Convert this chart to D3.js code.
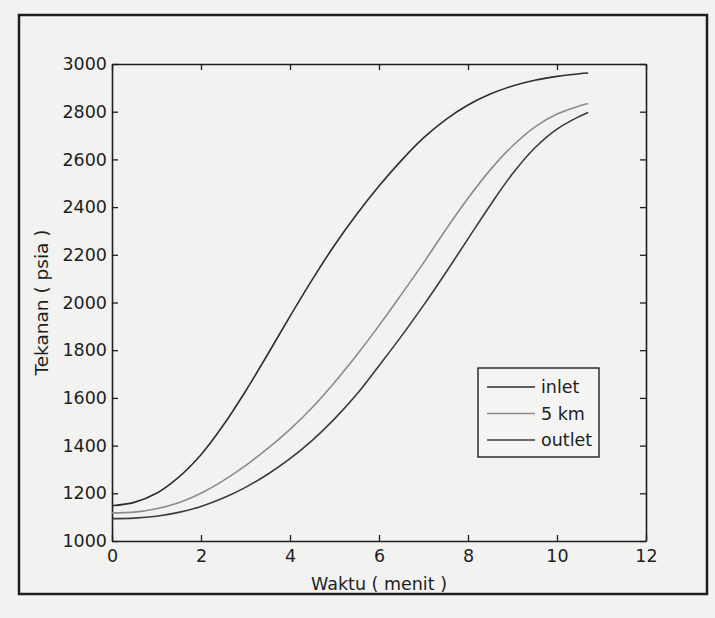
<!DOCTYPE html>
<html>
<head>
<meta charset="utf-8">
<script src="https://cdn.jsdelivr.net/npm/d3@7"></script>
<style>
  html, body { margin: 0; padding: 0; background: #f2f3f1; }
  svg { display: block; }
  svg text { font-family: "DejaVu Sans", Verdana, sans-serif; }
</style>
</head>
<body>
<div id="chart"></div>
<script>
const W = 715, H = 618;
const margin = {left: 112, top: 64, right: 69, bottom: 77};
const plotW = W - margin.left - margin.right;
const plotH = H - margin.top - margin.bottom;

// time in minutes
const waktu = [0, 0.5, 1, 1.5, 2, 2.5, 3, 3.5, 4, 4.5, 5, 5.5, 6, 6.5, 7, 7.5, 8, 8.5, 9, 9.5, 10, 10.5, 10.7];
// pressure (psia)
const inlet  = [1148, 1162, 1200, 1268, 1362, 1485, 1628, 1783, 1942, 2096, 2240, 2370, 2488, 2595, 2690, 2767, 2828, 2874, 2908, 2932, 2948, 2959, 2962];
const km5    = [1118, 1121, 1135, 1160, 1200, 1253, 1316, 1388, 1468, 1560, 1665, 1780, 1903, 2033, 2166, 2305, 2437, 2556, 2656, 2735, 2790, 2824, 2834];
const outlet = [1094, 1096, 1104, 1120, 1145, 1180, 1225, 1280, 1345, 1422, 1512, 1615, 1735, 1858, 1988, 2125, 2267, 2408, 2540, 2648, 2727, 2780, 2797];

const seriesNames = ['inlet', '5 km', 'outlet'];
const seriesValues = [inlet, km5, outlet];
const seriesColors = ['#2e2e2e', '#8a8c8a', '#3a3a3a'];

const xTicks = [0, 2, 4, 6, 8, 10, 12];
const yTicks = [1000, 1200, 1400, 1600, 1800, 2000, 2200, 2400, 2600, 2800, 3000];

const svg = d3.select('#chart')
  .append('svg')
  .attr('width', W)
  .attr('height', H);

// figure frame
svg.append('rect')
  .attr('x', 19).attr('y', 15)
  .attr('width', 688).attr('height', 579)
  .attr('fill', 'none')
  .attr('stroke', '#1e1e1e')
  .attr('stroke-width', 2.5);

const g = svg.append('g')
  .attr('transform', `translate(${margin.left},${margin.top})`);

const x = d3.scaleLinear().domain([0, 12]).range([0, plotW]);
const y = d3.scaleLinear().domain([1000, 3000]).range([plotH, 0]);

function styleAxis(sel) {
  sel.attr('font-family', null).attr('font-size', null);
  sel.selectAll('path.domain').attr('stroke', '#1e1e1e').attr('stroke-width', 1.6);
  sel.selectAll('.tick line').attr('stroke', '#1e1e1e').attr('stroke-width', 1.3);
  sel.selectAll('.tick text')
    .attr('fill', '#1e1e1e')
    .style('font-size', '17.5px');
}

g.append('g')
  .attr('transform', `translate(0,${plotH})`)
  .call(d3.axisBottom(x).tickValues(xTicks).tickFormat(d3.format('d'))
    .tickSizeInner(-6).tickSizeOuter(0).tickPadding(9))
  .call(styleAxis);

g.append('g')
  .call(d3.axisTop(x).tickValues(xTicks).tickSizeInner(-6).tickSizeOuter(0).tickFormat(''))
  .call(styleAxis);

g.append('g')
  .call(d3.axisLeft(y).tickValues(yTicks).tickFormat(d3.format('d'))
    .tickSizeInner(-6).tickSizeOuter(0).tickPadding(5))
  .call(styleAxis);

g.append('g')
  .attr('transform', `translate(${plotW},0)`)
  .call(d3.axisRight(y).tickValues(yTicks).tickSizeInner(-6).tickSizeOuter(0).tickFormat(''))
  .call(styleAxis);

// curves
const line = d3.line()
  .x((d, i) => x(waktu[i]))
  .y(d => y(d))
  .curve(d3.curveCatmullRom);

seriesValues.forEach((vals, k) => {
  g.append('path')
    .datum(vals)
    .attr('fill', 'none')
    .attr('stroke', seriesColors[k])
    .attr('stroke-width', 1.6)
    .attr('d', line);
});

// axis labels
svg.append('text')
  .attr('x', margin.left + plotW / 2)
  .attr('y', 590)
  .attr('text-anchor', 'middle')
  .attr('fill', '#1e1e1e')
  .style('font-size', '17.5px')
  .text('Waktu ( menit )');

svg.append('text')
  .attr('transform', `translate(48,${margin.top + plotH / 2}) rotate(-90)`)
  .attr('text-anchor', 'middle')
  .attr('fill', '#1e1e1e')
  .style('font-size', '18.5px')
  .text('Tekanan ( psia )');

// legend
const legend = svg.append('g').attr('transform', 'translate(478,368)');
legend.append('rect')
  .attr('width', 121).attr('height', 89)
  .attr('fill', '#f4f5f3')
  .attr('stroke', '#1e1e1e')
  .attr('stroke-width', 1.4);

seriesNames.forEach((name, k) => {
  const ly = 19 + k * 26.5;
  legend.append('line')
    .attr('x1', 9).attr('x2', 57)
    .attr('y1', ly).attr('y2', ly)
    .attr('stroke', seriesColors[k])
    .attr('stroke-width', 1.6);
  legend.append('text')
    .attr('x', 63).attr('y', ly + 6)
    .attr('fill', '#1e1e1e')
    .style('font-size', '17.5px')
    .text(name);
});
</script>
</body>
</html>
